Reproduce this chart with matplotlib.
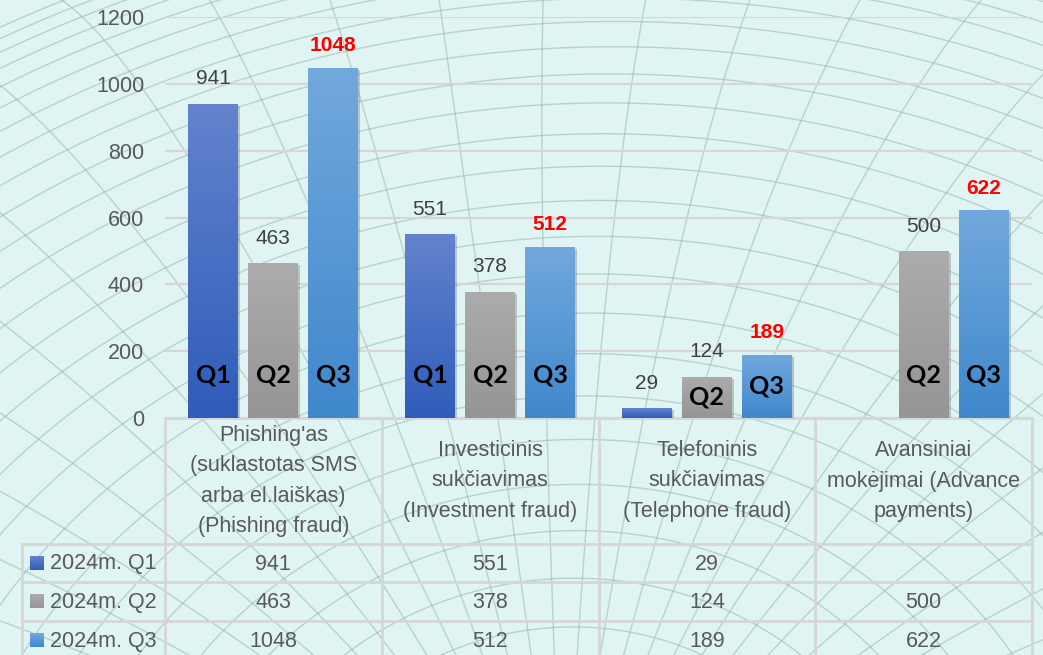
import numpy as np
import matplotlib.pyplot as plt
from matplotlib import patheffects as pe
from matplotlib.colors import to_rgb

# data
categories = [
    "Phishing'as\n(suklastotas SMS\narba el.laiškas)\n(Phishing fraud)",
    "Investicinis\nsukčiavimas\n(Investment fraud)",
    "Telefoninis\nsukčiavimas\n(Telephone fraud)",
    "Avansiniai\nmokėjimai (Advance\npayments)",
]
series_names = ["2024m. Q1", "2024m. Q2", "2024m. Q3"]
short_names = ["Q1", "Q2", "Q3"]
q1 = [941, 551, 29, None]
q2 = [463, 378, 124, 500]
q3 = [1048, 512, 189, 622]
yticks = [0, 200, 400, 600, 800, 1000, 1200]

# gradient top/bottom colours per series
grad = [("#6383cd", "#2f5cba"), ("#acacac", "#959595"), ("#72a8dd", "#3f88cc")]

W, H = 1043, 655
BG = "#e0f4f3"
fig = plt.figure(figsize=(W / 100, H / 100), dpi=100, facecolor=BG)


def fx(px):
    return px / W


def fy(py):
    return 1 - py / H


def gradient_img(i, n=100):
    g = np.linspace(0, 1, n)[:, None, None]
    top, bot = np.array(to_rgb(grad[i][0])), np.array(to_rgb(grad[i][1]))
    return top[None, None, :] * (1 - g) + bot[None, None, :] * g


# decorative globe wireframe in the background
bg = fig.add_axes([0, 0, 1, 1], zorder=-5)
bg.axis("off")
R = 1700
tilt = np.radians(24)
rot = np.radians(-8)
pole = (660, 880)
cx, cy = pole[0], pole[1] + R * np.sin(tilt)


def project(theta, phi):
    x = np.sin(theta) * np.cos(phi)
    y = np.sin(theta) * np.sin(phi)
    z = np.cos(theta)
    y2 = y * np.cos(tilt) - z * np.sin(tilt)
    z2 = y * np.sin(tilt) + z * np.cos(tilt)
    xs = x * np.cos(rot) - y2 * np.sin(rot)
    ys = x * np.sin(rot) + y2 * np.cos(rot)
    return cx + R * xs, cy + R * ys, z2


line_kw = dict(color="#8fb2a2", lw=1.0, alpha=0.5)
phi = np.linspace(0, 2 * np.pi, 3000)
for th in np.radians(np.arange(8, 60, 2.0)):
    X, Y, Z = project(np.full_like(phi, th), phi)
    X[Z < 0] = np.nan
    bg.plot(X, Y, **line_kw)
theta = np.linspace(0, np.pi / 2, 2000)
for ph in np.radians(np.arange(0, 360, 5.0)):
    X, Y, Z = project(theta, np.full_like(theta, ph))
    X[Z < 0] = np.nan
    bg.plot(X, Y, **line_kw)
bg.set_xlim(0, W)
bg.set_ylim(H, 0)

# main axes
left, right, top, base = 165, 1032, 17, 418
ax = fig.add_axes([fx(left), fy(base), fx(right - left), fy(top) - fy(base)])
ax.set_facecolor("none")
ax.set_xlim(-0.5, len(categories) - 0.5)
ax.set_ylim(0, 1200)
ax.set_yticks(yticks)
ax.tick_params(axis="y", length=0, pad=15, labelsize=15.5, labelcolor="#595959")
ax.set_xticks([])
for s in ax.spines.values():
    s.set_visible(False)
ax.grid(axis="y", color="#d9d5d5", lw=1.6)
ax.set_axisbelow(True)
for lab in ax.get_yticklabels():
    lab.set_fontfamily("Liberation Sans")

x = np.arange(len(categories))
width = 0.23
step = 0.277
series = [q1, q2, q3]
for i, vals in enumerate(series):
    xs = x + (i - 1) * step
    hv = [v if v is not None else 0 for v in vals]
    bars = ax.bar(xs, hv, width, color=grad[i][1], zorder=2,
                  path_effects=[pe.SimplePatchShadow(offset=(1.5, -1.5), shadow_rgbFace="#707070", alpha=0.35),
                                pe.Normal()])
    img = gradient_img(i)
    for b, v, xx in zip(bars, vals, xs):
        if v is None:
            b.set_visible(False)
            continue
        im = ax.imshow(img, extent=[xx - width / 2, xx + width / 2, 0, v], aspect="auto", zorder=3)
        im.set_clip_path(b)
        if i == 2:
            ax.annotate(str(v), (xx, v), xytext=(0, 9), textcoords="offset points",
                        ha="center", va="bottom", fontsize=15, color="#ff0000",
                        fontweight="bold", family="Liberation Sans", zorder=5)
        else:
            ax.annotate(str(v), (xx, v), xytext=(0, 11), textcoords="offset points",
                        ha="center", va="bottom", fontsize=15, color="#404040",
                        family="Liberation Sans", zorder=5)
        if v >= 100:
            ax.text(xx, min(128, v / 2), short_names[i], ha="center", va="center",
                    fontsize=18, fontweight="bold", color="black", family="Lato", zorder=5)
ax.set_xlim(-0.5, len(categories) - 0.5)
ax.set_ylim(0, 1200)

# data table below the chart
tab = fig.add_axes([0, 0, 1, 1], zorder=-1)
tab.axis("off")
col_edges = [left + (right - left) * k / len(categories) for k in range(len(categories) + 1)]
row_edges = [base, 544, 582, 621, 660]
lc = "#d6d6d6"
tab.plot([left, right], [base, base], color=lc, lw=2)
for r in row_edges[1:]:
    tab.plot([22, right], [r, r], color=lc, lw=2)
for c in col_edges:
    tab.plot([c, c], [base, H], color=lc, lw=2)
tab.plot([22, 22], [row_edges[1], H], color=lc, lw=2)

for k, cat in enumerate(categories):
    xc = (col_edges[k] + col_edges[k + 1]) / 2
    tab.text(xc, 481, cat, ha="center", va="center", fontsize=15.5, color="#595959",
             family="Liberation Sans", linespacing=1.6)
    for i, vals in enumerate(series):
        v = vals[k]
        if v is not None:
            tab.text(xc, (row_edges[i + 1] + row_edges[i + 2]) / 2 + 1, str(v), ha="center",
                     va="center", fontsize=15.5, color="#595959", family="Liberation Sans")

for i, name in enumerate(series_names):
    yc = (row_edges[i + 1] + row_edges[i + 2]) / 2
    tab.imshow(gradient_img(i, 50), extent=[30, 44, yc + 7, yc - 7], aspect="auto", zorder=3)
    tab.text(50, yc + 1, name, ha="left", va="center", fontsize=15.5, color="#595959",
             family="Liberation Sans")
tab.set_xlim(0, W)
tab.set_ylim(H, 0)

fig.savefig("out.png", dpi=100, facecolor=BG)
